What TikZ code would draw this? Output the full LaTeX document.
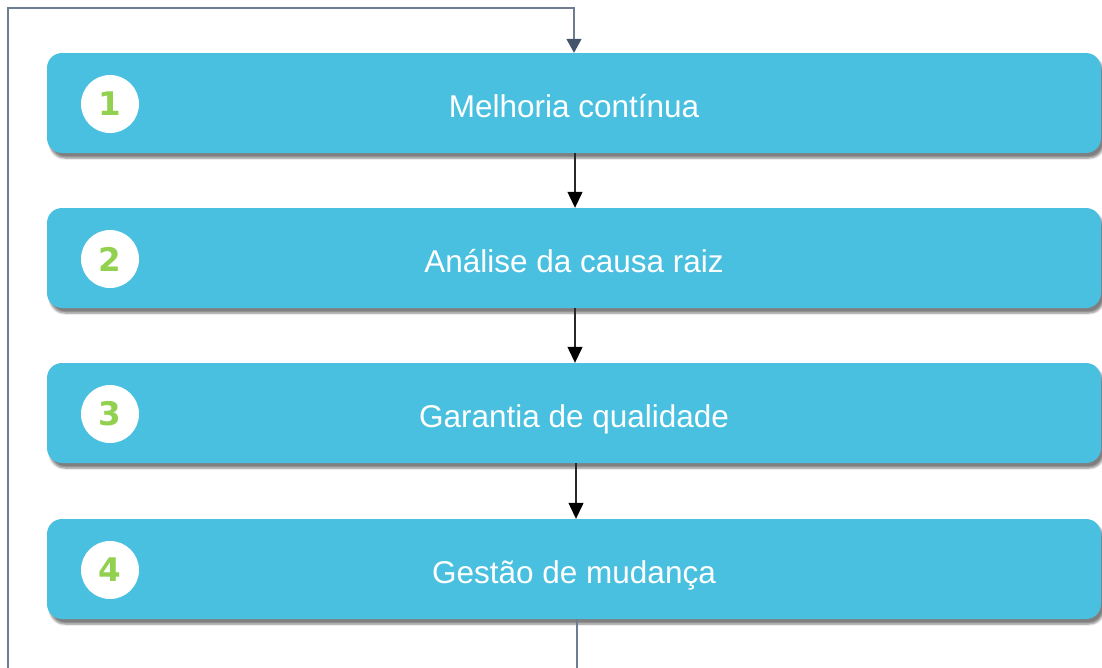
\documentclass[tikz,border=0pt]{standalone}
\usepackage{fontspec}
\setmainfont{Liberation Sans}
\newfontfamily\numfont{DejaVu Sans}
\usetikzlibrary{arrows.meta,shadows.blur}
\definecolor{boxblue}{RGB}{74,192,224}
\definecolor{numgreen}{RGB}{146,208,80}
\definecolor{loopgray}{RGB}{110,124,143}
\definecolor{loopdark}{RGB}{68,84,106}
\tikzset{
  stepbox/.style={fill=boxblue, draw=none, rounded corners=15pt,
    minimum width=1054pt, minimum height=100pt, inner sep=0pt,
    text height=30pt, text depth=2pt,
    text=white, font=\fontsize{31.5}{36}\selectfont,
    blur shadow={shadow xshift=3pt, shadow yshift=-5pt, shadow blur steps=6, shadow opacity=50}},
  numcircle/.style={circle, fill=white, draw=none, minimum size=58pt, inner sep=0pt,
    text=numgreen, font=\numfont\bfseries\fontsize{32.5}{36}\selectfont},
  flow/.style={draw={rgb,255:red,40;green,40;blue,40}, line width=1.3pt, -{Triangle[width=15pt,length=16pt,color=black]}},
  loopline/.style={draw=loopgray, line width=1.5pt},
}
\begin{document}
\begin{tikzpicture}[x=1pt,y=-1pt]
\useasboundingbox (0,0) rectangle (1102,667);
\foreach \i/\yc/\t in {1/103/{Melhoria contínua},2/258/{Análise da causa raiz},3/413/{Garantia de qualidade},4/569/{Gestão de mudança}}{
  \node[stepbox] (b\i) at (574,\yc) {\t};
  \node[numcircle] (c\i) at (110,\yc+1) {\i};
}
\draw[flow] ([xshift=1pt]b1.south) -- ([xshift=1pt]b2.north);
\draw[flow] ([xshift=1pt]b2.south) -- ([xshift=1pt]b3.north);
\draw[flow] ([xshift=2pt]b3.south) -- ([xshift=2pt]b4.north);
\coordinate (bl) at (8,675);
\coordinate (tl) at (8,8);
\coordinate (tr) at (574,8);
\draw[loopline] ([xshift=3pt]b4.south) -- ([xshift=3pt]b4.south |- bl) -- (bl) -- (tl) -- (tr)
  -- (tr |- b1.north) [-{Triangle[width=15pt,length=14pt,color=loopdark]}];
\end{tikzpicture}
\end{document}
